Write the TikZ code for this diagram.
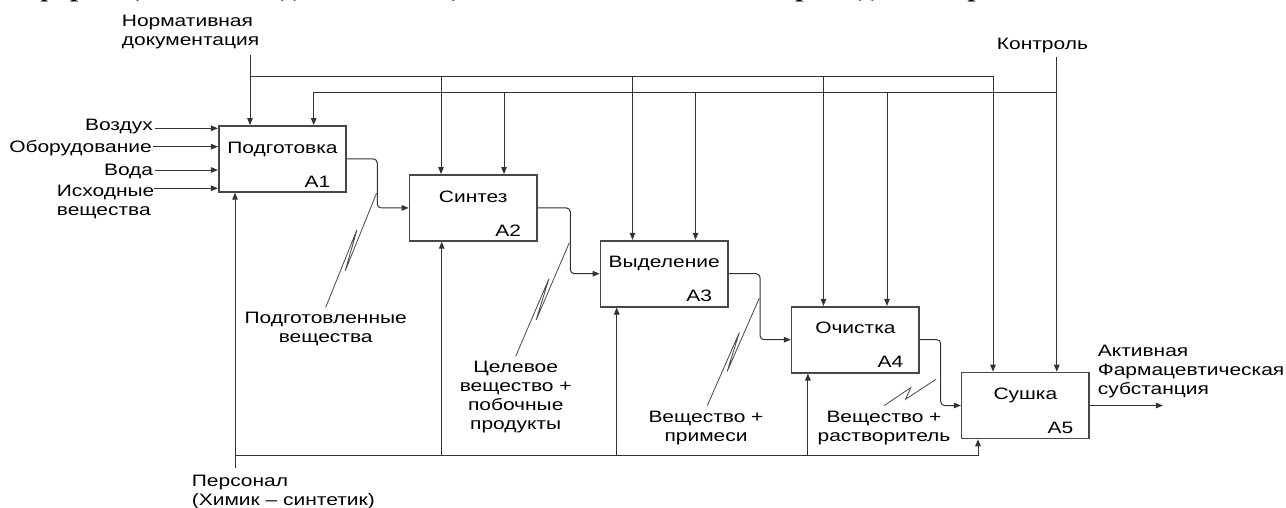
\documentclass[tikz,border=0pt]{standalone}
\usepackage{fontspec}
\usepackage{graphicx}
\setmainfont{Liberation Sans}[FakeStretch=1.27]
\newfontfamily\hdrfont{Liberation Serif}
\usetikzlibrary{arrows.meta,calc}
\newcommand\squiggle[5]{\draw[sq] (#1) -- ($(#1)!#3!(#2)!#5!90:(#2)$) -- ($(#1)!#4!(#2)!#5!-90:(#2)$) -- (#2);}
\begin{document}
\begin{tikzpicture}[x=1pt,y=-1pt,
  box/.style={draw=black!72, line width=1.6pt, minimum width=127.5pt, minimum height=66pt, inner sep=0pt, fill=white},
  conn/.style={draw=black!80, line width=1pt},
  arr/.style={conn, -{Triangle[length=7pt,width=5.5pt]}},
  outc/.style={arr, rounded corners=4pt},
  sq/.style={draw=black!72, line width=0.8pt},
  lbl/.style={inner sep=0pt, font=\fontsize{16.5}{19}\selectfont},
]
\useasboundingbox (0,0) rectangle (1286,507);
\fill[white] (0,0) rectangle (1286,507);
\clip (0,0) rectangle (1286,507);

% cut-off line of document text
\node[anchor=base west, inner sep=0pt] (hdr) at (-1,-3) {\resizebox{1046pt}{\height}{\hdrfont\bfseries\fontsize{21}{21}\selectfont информационной модели в нотации IDEF0 синтеза ГФС приведена на рис.2.}};

% boxes
\node[box] (A1) at (282.5,158.9) {};
\node[box] (A2) at (473.2,207.9) {};
\node[box] (A3) at (664.2,273.7) {};
\node[box] (A4) at (855.4,339.7) {};
\node[box] (A5) at (1025.4,405.5) {};

\foreach \b/\t in {A1/Подготовка, A2/Синтез, A3/Выделение, A4/Очистка, A5/Сушка}{
  \node[lbl, anchor=base] (\b t) at ([yshift=-28pt]\b.north) {\t};
  \node[lbl, anchor=base east] (\b n) at ([xshift=-16.5pt,yshift=5.7pt]\b.south east) {\b};
}

% inputs of A1
\node[lbl, anchor=base east] (vozd) at (153,130.5) {Воздух};
\node[lbl, anchor=base east] (obor) at (152,152.5) {Оборудование};
\node[lbl, anchor=base east] (voda) at (153.3,175.5) {Вода};
\node[lbl, anchor=north west, align=left] (ishod) at (56.7,184.5) {Исходные\\вещества};
\coordinate (i1) at (155,128.3);
\coordinate (i2) at (153,146.7);
\coordinate (i3) at (155,170);
\coordinate (i4) at (154,188.3);
\foreach \i in {i1,i2,i3,i4}{ \draw[arr] (\i) -- (\i -| A1.west); }

% controls: normative documentation
\node[lbl, anchor=north west, align=left] (norm) at (121.7,15.3) {Нормативная\\документация};
\coordinate (N) at (250,55);
\coordinate (nh) at (250,76);
\coordinate (ne) at (993,76);
\draw[arr] (N) -- (N |- A1.north);
\draw[arr] (nh) -- (ne) -- (ne |- A5.north);
\coordinate (n2) at (441,76);
\coordinate (n3) at (632.5,76);
\coordinate (n4) at (823.5,76);
\draw[arr] (n2) -- (n2 |- A2.north);
\draw[arr] (n3) -- (n3 |- A3.north);
\draw[arr] (n4) -- (n4 |- A4.north);

% controls: Контроль
\node[lbl, anchor=base west] (kontr) at (996.7,49.3) {Контроль};
\coordinate (K) at (1056.8,57.3);
\coordinate (kh) at (1056.8,92.5);
\coordinate (k1) at (313.7,92.5);
\draw[arr] (K) -- (K |- A5.north);
\draw[arr] (kh) -- (k1) -- (k1 |- A1.north);
\coordinate (k2) at (504,92.5);
\coordinate (k3) at (695.5,92.5);
\coordinate (k4) at (887,92.5);
\draw[arr] (k2) -- (k2 |- A2.north);
\draw[arr] (k3) -- (k3 |- A3.north);
\draw[arr] (k4) -- (k4 |- A4.north);

% mechanism: Персонал
\node[lbl, anchor=north west, align=left] (pers) at (191.7,474.7) {Персонал\\(Химик – синтетик)};
\coordinate (P) at (235,468);
\coordinate (ph) at (235,455);
\coordinate (pe) at (978,455);
\draw[arr] (P) -- (P |- A1.south);
\draw[arr] (ph) -- (pe) -- (pe |- A5.south);
\coordinate (p2) at (441.7,455);
\coordinate (p3) at (616.7,455);
\coordinate (p4) at (807.9,455);
\draw[arr] (p2) -- (p2 |- A2.south);
\draw[arr] (p3) -- (p3 |- A3.south);
\draw[arr] (p4) -- (p4 |- A4.south);

% flows between boxes
\draw[outc] (A1.east) -- ++(30.2,0) |- (A2.west);
\draw[outc] (A2.east) -- ++(32.6,0) |- (A3.west);
\draw[outc] (A3.east) -- ++(31.3,0) |- (A4.west);
\draw[outc] (A4.east) -- ++(20.7,0) |- (A5.west);
\draw[arr] (A5.east) -- ++(73,0) coordinate (out);

% output label
\node[lbl, anchor=north west, align=left] (api) at (1097.7,344.7) {Активная\\Фармацевтическая\\субстанция};

% flow labels with squiggles
\node[lbl, anchor=north, align=center] (f1) at (325.7,312.3) {Подготовленные\\вещества};
\node[lbl, anchor=north, align=center] (f2) at (515.7,361.3) {Целевое\\вещество +\\побочные\\продукты};
\node[lbl, anchor=north, align=center] (f3) at (706,410.7) {Вещество +\\примеси};
\node[lbl, anchor=north, align=center] (f4) at (884,410.7) {Вещество +\\растворитель};
\coordinate (b1) at (376.5,193.3);
\coordinate (b2) at (569.3,242.7);
\coordinate (b3) at (759.2,298.3);
\coordinate (b4) at (936,379.3);
\coordinate (a1) at ([yshift=5pt]f1.north);
\coordinate (a2) at ([yshift=5pt]f2.north);
\coordinate (a3) at ([xshift=1.3pt,yshift=5pt]f3.north);
\coordinate (a4) at ([yshift=5pt]f4.north);
\squiggle{a1}{b1}{0.67}{0.33}{3pt}
\squiggle{a2}{b2}{0.67}{0.33}{3pt}
\squiggle{a3}{b3}{0.67}{0.33}{3pt}
\squiggle{a4}{b4}{0.55}{0.38}{4pt}
\end{tikzpicture}
\end{document}
